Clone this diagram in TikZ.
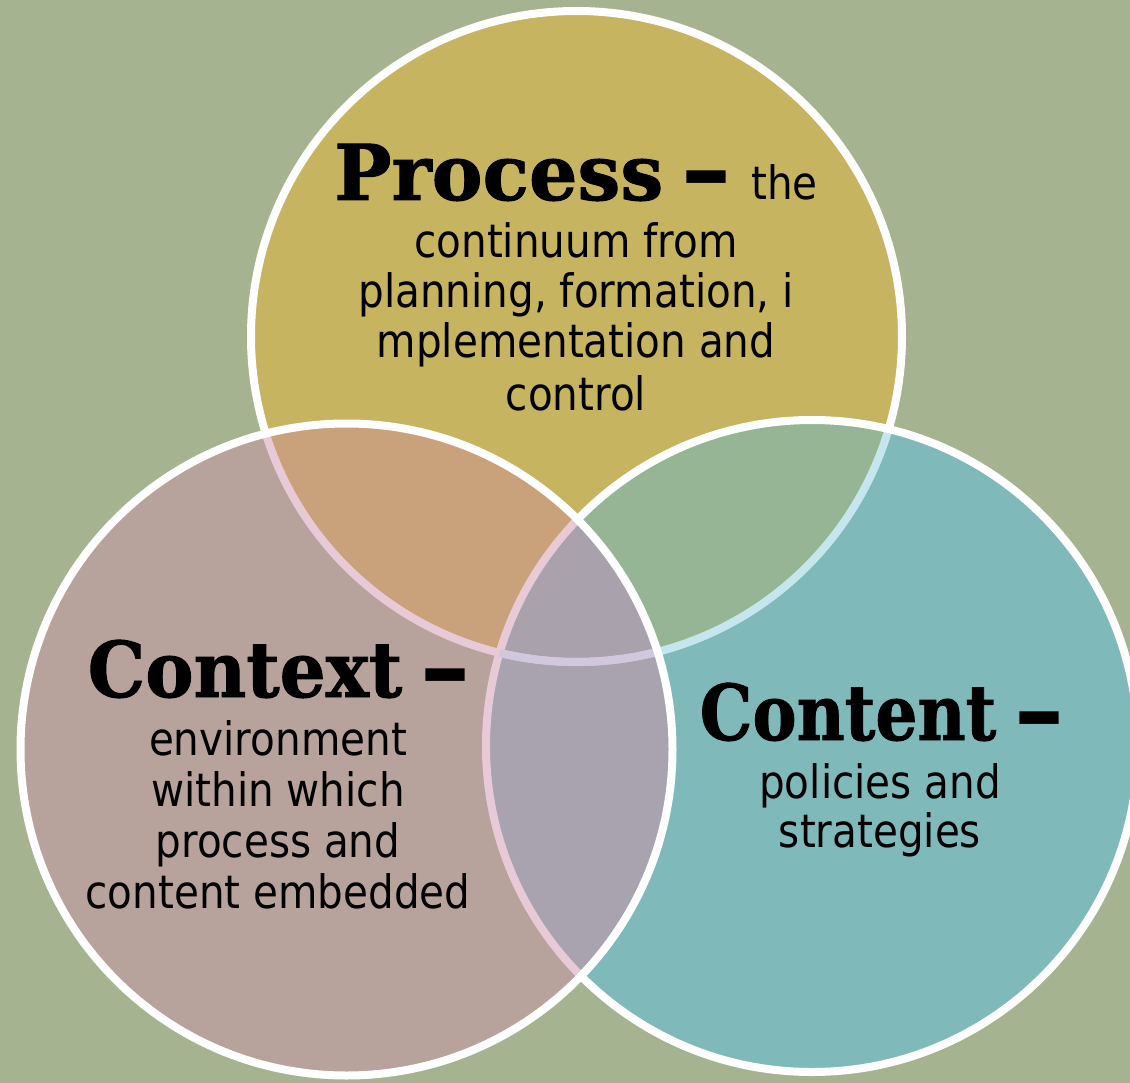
\documentclass[tikz,border=0pt]{standalone}
\usepackage{fontspec}
\newfontfamily\titlefont{DejaVu Serif}[BoldFeatures={FakeBold=1.2}]
\newfontfamily\dashfont{DejaVu Sans}
\newfontfamily\bodyfont{DejaVu Sans}[FakeStretch=0.88]
\newcommand\tdash{\hspace{18pt}\raisebox{-5pt}{\dashfont\bfseries\fontsize{100}{80}\selectfont –}}
\definecolor{bgc}{HTML}{A5B391}
\definecolor{pC}{HTML}{C6B460}
\definecolor{ctxC}{HTML}{B8A29C}
\definecolor{cntC}{HTML}{80B9BA}
\definecolor{pctx}{HTML}{C9A17B}
\definecolor{pcnt}{HTML}{96B595}
\definecolor{ctxcnt}{HTML}{A8A3AF}
\definecolor{allc}{HTML}{A9A2AD}
\definecolor{pinkline}{HTML}{E8CAD6}
\definecolor{blueline}{HTML}{C6E6EE}
\definecolor{lavline}{HTML}{D2C8DE}
\tikzset{
  ring/.style={line width=8pt, draw=white},
  ttl/.style={font=\titlefont\bfseries\fontsize{77}{80}\selectfont, anchor=base, inner sep=0pt},
  bdy/.style={font=\bodyfont\fontsize{46}{50}\selectfont, anchor=base, inner sep=0pt},
}
\def\Pc{(576.5,336.5) circle (325.5)}
\def\Nc{(812,746) circle (326)}
\def\Xc{(346.5,749.5) circle (326)}
\begin{document}
\begin{tikzpicture}[x=1pt,y=-1pt]
\useasboundingbox (0,0) rectangle (1130,1083);
\clip (0,0) rectangle (1130,1083);
\fill[bgc] (0,0) rectangle (1130,1083);
% Process
\fill[pC] \Pc;
\draw[ring] \Pc;
% Content
\fill[cntC] \Nc;
\begin{scope}
  \clip \Nc;
  \fill[pcnt] \Pc;
  \draw[ring, draw=blueline] \Pc;
\end{scope}
\draw[ring] \Nc;
% Context
\fill[ctxC] \Xc;
\begin{scope}
  \clip \Xc;
  \fill[pctx] \Pc;
  \fill[ctxcnt] \Nc;
  \begin{scope}
    \clip \Pc;
    \fill[allc] \Nc;
  \end{scope}
  \draw[ring, draw=pinkline] \Pc;
  \draw[ring, draw=pinkline] \Nc;
  \begin{scope}
    \clip \Nc;
    \draw[ring, draw=lavline] \Pc;
  \end{scope}
\end{scope}
\draw[ring] \Xc;
% Process text
\node[ttl] (ptitle) at (576,200) {\scalebox{0.99}[1]{Process}\tdash\hspace{20pt}{\bodyfont\mdseries\fontsize{46}{50}\selectfont the}};
\node[bdy] (p1) at (576,258) {continuum from};
\node[bdy] (p2) at (576,308) {planning, formation, i};
\node[bdy] (p3) at (576,358) {mplementation and};
\node[bdy] (p4) at (576,410) {control};
% Context text
\node[ttl] (xtitle) at (279,697) {\scalebox{0.94}[1]{Context}\tdash};
\node[bdy] (x1) at (278,755) {environment};
\node[bdy] (x2) at (278,806) {within which};
\node[bdy] (x3) at (278,857) {process and};
\node[bdy] (x4) at (278,908) {content embedded};
% Content text
\node[ttl] (ntitle) at (882,740) {\scalebox{0.86}[1]{Content}\tdash};
\node[bdy] (n1) at (880,798) {policies and};
\node[bdy] (n2) at (880,847) {strategies};
\end{tikzpicture}
\end{document}
